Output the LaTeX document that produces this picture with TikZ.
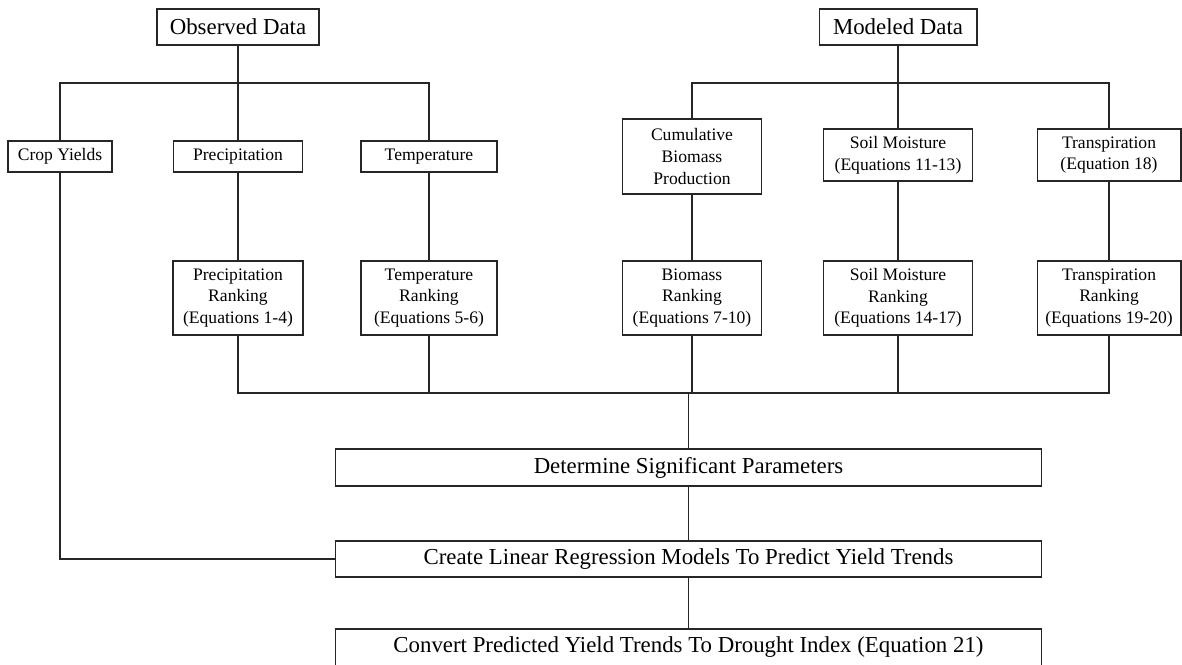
\documentclass[tikz,border=0pt]{standalone}
\usepackage{fontspec}
\setmainfont{Liberation Serif}
\usetikzlibrary{calc}

\tikzset{
	box/.style={draw=black!85, line width=0.6pt, align=center, inner sep=1pt, font=\fontsize{10}{12.3}\selectfont},
	bigbox/.style={box, font=\fontsize{13}{15}\selectfont},
	link/.style={draw=black!85, line width=0.6pt}
}

\begin{document}
\begin{tikzpicture}[x=0.02cm, y=-0.02cm]
	\useasboundingbox (0,0) rectangle (1182,665);
	
	% data sources
	\node[bigbox, minimum width=3.24cm, minimum height=0.72cm] (obs) at (238,27) {Observed Data};
	\node[bigbox, minimum width=3.16cm, minimum height=0.72cm] (mod) at (898,27) {Modeled Data};
	
	\node[box, minimum width=2.08cm, minimum height=0.62cm] (crop) at (60,156.5) {Crop Yields};
	\node[box, minimum width=2.58cm, minimum height=0.62cm] (prec) at (238,156.5) {Precipitation};
	\node[box, minimum width=2.72cm, minimum height=0.62cm] (temp) at (429,156.5) {Temperature};
	
	\node[box, minimum width=2.78cm, minimum height=1.50cm] (cumul) at (692,156.5) {Cumulative\\Biomass\\Production};
	\node[box, minimum width=2.98cm, minimum height=1.04cm] (soil) at (898,155) {Soil Moisture\\(Equations 11-13)};
	\node[box, minimum width=2.88cm, minimum height=1.04cm] (transp) at (1109,155) {Transpiration\\(Equation 18)};
	
	% rankings
	\node[box, minimum width=2.60cm, minimum height=1.48cm] (prank) at (238,298) {Precipitation\\Ranking\\(Equations 1-4)};
	\node[box, minimum width=2.72cm, minimum height=1.48cm] (trank) at (429,298) {Temperature\\Ranking\\(Equations 5-6)};
	\node[box, minimum width=2.78cm, minimum height=1.48cm] (brank) at (692,298) {Biomass\\Ranking\\(Equations 7-10)};
	\node[box, minimum width=2.98cm, minimum height=1.48cm] (srank) at (898,298) {Soil Moisture\\Ranking\\(Equations 14-17)};
	\node[box, minimum width=2.88cm, minimum height=1.48cm] (xrank) at (1109,298) {Transpiration\\Ranking\\(Equations 19-20)};
	
	% analysis steps
	\node[bigbox, minimum width=14.14cm, minimum height=0.74cm] (det) at (688.5,467.5) {Determine Significant Parameters};
	\node[bigbox, minimum width=14.14cm, minimum height=0.72cm] (create) at (688.5,559) {Create Linear Regression Models To Predict Yield Trends};
	\node[bigbox, minimum width=14.14cm, minimum height=0.74cm] (conv) at (688.5,647.5) {Convert Predicted Yield Trends To Drought Index (Equation 21)};
	
	\coordinate (obsbus) at (238,83);
	\coordinate (modbus) at (898,83);
	\coordinate (rankbus) at (688.5,393);
	
	\draw[link] (obs) -- (prec);
	\draw[link] (crop.north) |- (obsbus) -| (temp.north);
	\draw[link] (mod) -- (soil);
	\draw[link] (cumul.north) |- (modbus) -| (transp.north);
	
	\draw[link] (prec) -- (prank);
	\draw[link] (temp) -- (trank);
	\draw[link] (cumul) -- (brank);
	\draw[link] (soil) -- (srank);
	\draw[link] (transp) -- (xrank);
	
	\draw[link] (prank.south) |- (rankbus) -| (xrank.south);
	\draw[link] (trank.south) -- (trank.south |- rankbus);
	\draw[link] (brank.south) -- (brank.south |- rankbus);
	\draw[link] (srank.south) -- (srank.south |- rankbus);
	
	\draw[link] (rankbus) -- (det.north);
	\draw[link] (det) -- (create);
	\draw[link] (create) -- (conv);
	\draw[link] (crop.south) |- (create.west);
	
\end{tikzpicture}
\end{document}
